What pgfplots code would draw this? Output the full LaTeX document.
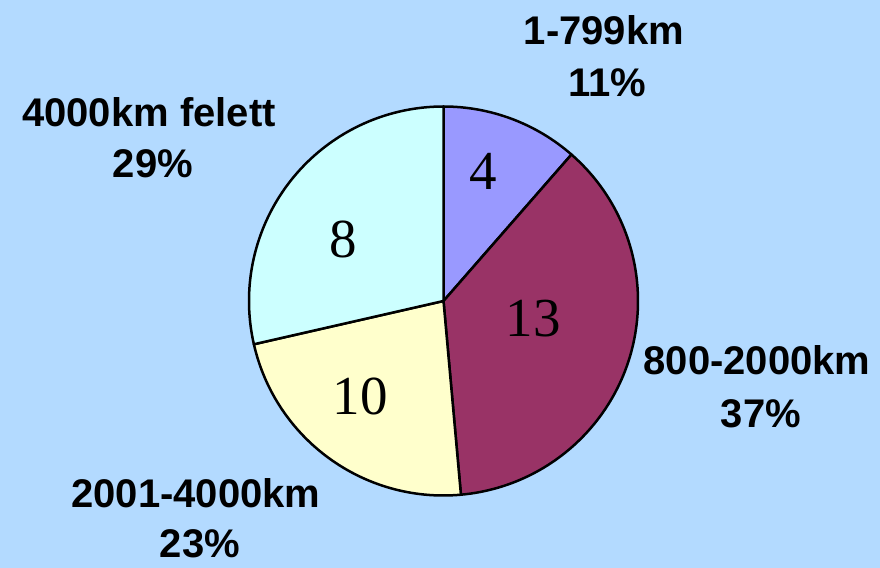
\documentclass[border=0pt]{standalone}
\usepackage{pgfplots}
\usepackage{pgfplotstable}
\pgfplotsset{compat=1.18}
\usepackage{fontspec}
\setmainfont{Liberation Sans}
\newfontfamily\numfont{Liberation Serif}
\definecolor{bgblue}{RGB}{179,218,255}
\definecolor{sliceA}{RGB}{153,153,255}
\definecolor{sliceB}{RGB}{153,51,102}
\definecolor{sliceC}{RGB}{255,255,204}
\definecolor{sliceD}{RGB}{204,255,255}

% slice values, clockwise from 12 o'clock
\pgfplotstableread{
row value
0 4
1 13
2 8
3 10
}\piedata

\def\pietotal{0}
\pgfplotsforeachungrouped \i in {0,...,3}{%
  \pgfplotstablegetelem{\i}{value}\of\piedata
  \pgfmathsetmacro\pietotal{\pietotal+\pgfplotsretval}%
}
\def\cum{90}
\pgfplotsforeachungrouped \i in {0,...,3}{%
  \pgfplotstablegetelem{\i}{value}\of\piedata
  \pgfmathsetmacro\w{\pgfplotsretval*360/\pietotal}%
  \expandafter\xdef\csname pieS\i\endcsname{\cum}%
  \pgfmathsetmacro\cum{\cum-\w}%
  \expandafter\xdef\csname pieE\i\endcsname{\cum}%
}

\newcommand\pieslice[2]{%
  \filldraw[fill=#2,draw=black,line width=1.25pt,line join=round]
    (axis cs:443.5,267) -- ++(\csname pieS#1\endcsname:97.25pt)
    arc[start angle=\csname pieS#1\endcsname, end angle=\csname pieE#1\endcsname, radius=97.25pt] -- cycle;}

\begin{document}
\begin{tikzpicture}
\begin{axis}[hide axis, scale only axis, width=440pt, height=284pt,
  xmin=0, xmax=880, ymin=0, ymax=568, clip=false]
\fill[bgblue] (axis cs:0,0) rectangle (axis cs:880,568);
\pieslice{0}{sliceA}
\pieslice{1}{sliceB}
\pieslice{2}{sliceC}
\pieslice{3}{sliceD}
% values inside slices
\begin{scope}[every node/.style={anchor=base, inner sep=0pt, font=\numfont\fontsize{27.5}{30}\selectfont}]
\node at (axis cs:483,378) {4};
\node at (axis cs:533,231) {13};
\node at (axis cs:360,153) {10};
\node at (axis cs:343,310) {8};
\end{scope}
% outer labels
\begin{scope}[every node/.style={anchor=base, inner sep=0pt, font=\bfseries\fontsize{20}{24}\selectfont}]
\node at (axis cs:604,523) {1-799km};
\node at (axis cs:607,471) {11\%};
\node at (axis cs:757,193) {800-2000km};
\node at (axis cs:761,140) {37\%};
\node at (axis cs:149,441) {4000km felett};
\node at (axis cs:153,390) {29\%};
\node at (axis cs:196,60) {2001-4000km};
\node at (axis cs:200,10) {23\%};
\end{scope}
\end{axis}
\pgfresetboundingbox
\path (0,0) rectangle (440pt,284pt);
\end{tikzpicture}
\end{document}
